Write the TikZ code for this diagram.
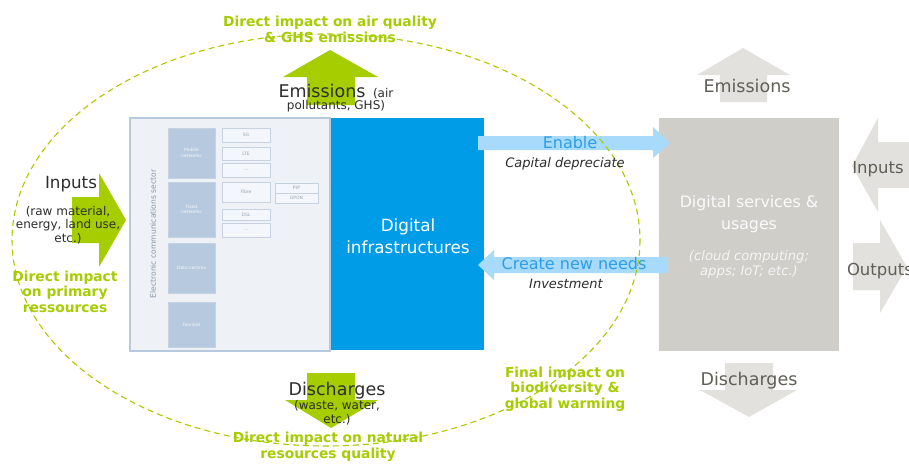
\documentclass[tikz,border=0pt]{standalone}
\usepackage{fontspec}
\setmainfont{DejaVu Sans}
\definecolor{lime}{RGB}{165,205,0}
\definecolor{infblue}{RGB}{0,156,232}
\definecolor{lblue}{RGB}{168,218,252}
\definecolor{tblue}{RGB}{45,158,228}
\definecolor{svcgray}{RGB}{207,206,201}
\definecolor{agray}{RGB}{226,225,221}
\definecolor{tgray}{RGB}{95,95,85}
\definecolor{txt}{RGB}{45,45,45}
\definecolor{imgfill}{RGB}{238,242,247}
\definecolor{imgborder}{RGB}{182,201,222}
\definecolor{imgbox}{RGB}{183,201,222}
\definecolor{smfill}{RGB}{243,246,250}
\definecolor{smdraw}{RGB}{198,210,225}
\definecolor{smtext}{RGB}{150,165,185}
\tikzset{
  greentxt/.style={font=\bfseries\fontsize{13.8}{15.5}\selectfont, text=lime, align=center, anchor=base},
  biglbl/.style={font=\fontsize{17.5}{20}\selectfont, text=txt, anchor=base},
  sublbl/.style={font=\fontsize{12}{13.5}\selectfont, text=txt, align=center, anchor=base},
  midlbl/.style={font=\fontsize{16}{18}\selectfont, anchor=base},
  itlbl/.style={font=\itshape\fontsize{13}{15}\selectfont, text=txt, anchor=base},
  graylbl/.style={font=\fontsize{17.5}{20}\selectfont, text=tgray, anchor=base},
  catbox/.style={fill=imgbox, draw=smdraw, line width=0.4pt, font=\fontsize{4.5}{5.5}\selectfont, text=white!85!imgbox, align=center},
  techbox/.style={fill=smfill, draw=smdraw, line width=0.8pt, font=\fontsize{4.5}{5.5}\selectfont, text=smtext},
}
\begin{document}
\begin{tikzpicture}[x=1pt,y=-1pt, every node/.append style={inner sep=0pt, outer sep=0pt}]
\useasboundingbox (0,0) rectangle (909,463);
\fill[white] (0,0) rectangle (909,463);

% ---------- image of the electronic communications sector ----------
\node (sector) [fill=imgfill, draw=imgborder, line width=2.5pt, minimum width=200pt, minimum height=233pt, anchor=north west] at (130,118) {};
\node (sectorlbl) [rotate=90, font=\fontsize{7.6}{9}\selectfont, text=smtext!90!black] at (153,234) {Electronic communications sector};
\node (mobile) [catbox, minimum width=47pt, minimum height=50pt, anchor=north west] at (168,128) {Mobile\\networks};
\node (fixed) [catbox, minimum width=47pt, minimum height=55pt, anchor=north west] at (168,182) {Fixed\\networks};
\node (dc) [catbox, minimum width=47pt, minimum height=50pt, anchor=north west] at (168,243) {Data centres};
\node (dev) [catbox, minimum width=47pt, minimum height=45pt, anchor=north west] at (168,302) {Devices};
\node (g5) [techbox, minimum width=48pt, minimum height=14pt, anchor=north west] at (222,128) {5G};
\node (lte) [techbox, minimum width=48pt, minimum height=13pt, anchor=north west] at (222,147) {LTE};
\node (mdots) [techbox, minimum width=48pt, minimum height=14pt, anchor=north west] at (222,163) {...};
\node (fibre) [techbox, minimum width=48pt, minimum height=20pt, anchor=north west] at (222,182) {Fibre};
\node (dsl) [techbox, minimum width=48pt, minimum height=11pt, anchor=north west] at (222,209) {DSL};
\node (fdots) [techbox, minimum width=48pt, minimum height=14pt, anchor=north west] at (222,223) {...};
\node (ptp) [techbox, minimum width=43pt, minimum height=10pt, anchor=north west] at (275,183) {PtP};
\node (gpon) [techbox, minimum width=43pt, minimum height=10pt, anchor=north west] at (275,193) {GPON};

% ---------- main boxes ----------
\node (infra) [fill=infblue, minimum width=153pt, minimum height=232pt, anchor=north west] at (331,118) {};
\node (infralbl) [midlbl, font=\fontsize{16.8}{22}\selectfont, text=white, align=center] at (408,253) {Digital\\infrastructures};
\node (svc) [fill=svcgray, minimum width=180pt, minimum height=233pt, anchor=north west] at (659,118) {};
\node (svclbl) [midlbl, font=\fontsize{15.8}{22}\selectfont, text=white!92!svcgray, align=center] at (749,229) {Digital services \&\\usages};
\node (svcsub) [itlbl, font=\itshape\fontsize{13.2}{15}\selectfont, text=white!80!svcgray, align=center] at (749,275) {(cloud computing;\\apps; IoT; etc.)};

% ---------- green arrows ----------
\fill[lime] (307,105) -- (307,77) -- (283,77) -- (330,50) -- (378,77) -- (355,77) -- (355,105) -- cycle;
\fill[lime] (307,373) -- (355,373) -- (355,400) -- (378,400) -- (331,428) -- (285,400) -- (307,400) -- cycle;
\fill[lime] (72,197) -- (99,197) -- (99,173) -- (126,220) -- (99,267) -- (99,243) -- (72,243) -- cycle;

% ---------- gray arrows ----------
\fill[agray] (720,102) -- (720,75) -- (697,75) -- (743,48) -- (790,75) -- (767,75) -- (767,102) -- cycle;
\fill[agray] (725,363) -- (773,363) -- (773,390) -- (797,390) -- (749,417) -- (700,390) -- (725,390) -- cycle;
\fill[agray] (915,142) -- (878,142) -- (878,118) -- (852,166) -- (878,212) -- (878,188) -- (915,188) -- cycle;
\fill[agray] (853,243) -- (880,243) -- (880,220) -- (907,267) -- (880,313) -- (880,290) -- (853,290) -- cycle;

% ---------- blue arrows ----------
\fill[lblue] (478,136) -- (653,136) -- (653,127) -- (670,143) -- (653,158) -- (653,150) -- (478,150) -- cycle;
\fill[lblue] (668,257) -- (494,257) -- (494,250) -- (478,265) -- (494,280) -- (494,273) -- (668,273) -- cycle;

% ---------- dashed ellipse ----------
\draw[lime, line width=1.1pt, dash pattern=on 6pt off 4pt] (326,240) ellipse [x radius=314, y radius=206];

% ---------- labels ----------
\node (emis) [biglbl] at (322,97) {Emissions};
\node (emissub) [sublbl, anchor=base west] at (373,97) {(air};
\node (emissub2) [sublbl] at (336,109) {pollutants, GHS)};
\node (inputs) [biglbl, font=\fontsize{16.7}{20}\selectfont] at (71,188) {Inputs};
\node (inputsub) [sublbl] at (68,242) {(raw material,\\energy, land use,\\etc.)};
\node (disch) [biglbl] at (337,395) {Discharges};
\node (dischsub) [sublbl] at (337,423) {(waste, water,\\etc.)};

\node (gtop) [greentxt] at (330,42) {Direct impact on air quality\\\& GHS emissions};
\node (gleft) [greentxt] at (65,312) {Direct impact\\on primary\\ressources};
\node (gbot) [greentxt] at (328,458) {Direct impact on natural\\resources quality};
\node (gfinal) [greentxt] at (565,408) {Final impact on\\biodiversity \&\\global warming};

\node (enable) [midlbl, text=tblue] at (570,148) {Enable};
\node (capdep) [itlbl] at (565,167) {Capital depreciate};
\node (create) [midlbl, text=tblue] at (574,269) {Create new needs};
\node (invest) [itlbl] at (566,288) {Investment};

\node (gemis) [graylbl] at (747,92) {Emissions};
\node (gdisch) [graylbl] at (749,385) {Discharges};
\node (ginputs) [graylbl, font=\fontsize{16.5}{20}\selectfont] at (878,173) {Inputs};
\node (goutputs) [graylbl, font=\fontsize{16.5}{20}\selectfont, anchor=base west] at (847,275) {Outputs};
\end{tikzpicture}
\end{document}
